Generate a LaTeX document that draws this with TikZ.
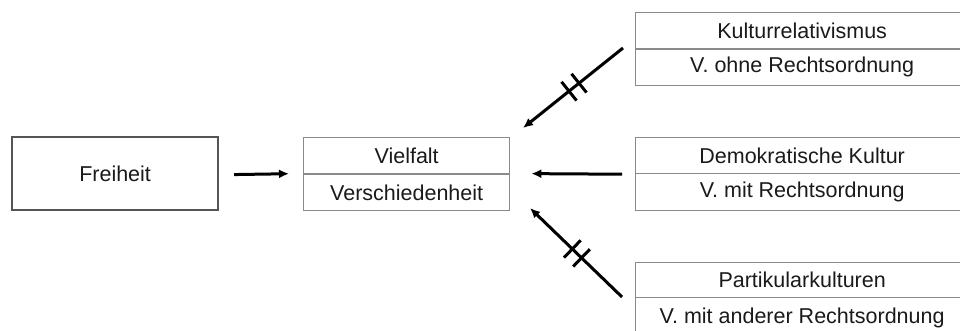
\documentclass[tikz,border=0pt]{standalone}
\usepackage{fontspec}
\setmainfont{Liberation Sans}
\usetikzlibrary{arrows.meta,decorations.markings}
\definecolor{txt}{HTML}{1A1A1A}
\definecolor{frame}{HTML}{8A8A8A}
\definecolor{mainframe}{HTML}{555555}
\begin{document}
\begin{tikzpicture}[x=1pt,y=-1pt,
  every node/.style={font=\fontsize{21.5}{26}\selectfont, text=txt},
  cell/.style={draw=frame, line width=1.3pt, rectangle, inner sep=0pt, anchor=north west},
  mainbox/.style={draw=mainframe, line width=2.2pt, rectangle, inner sep=0pt, anchor=north west},
  flow/.style={line width=3pt, -{Latex[length=10pt,width=9pt]}},
  blocked/.style={flow, postaction={decorate}, decoration={markings,
     mark=at position #1 with {\draw[-, line width=3pt] (0,-12pt) -- (0,12pt);},
     mark=at position #1+0.1 with {\draw[-, line width=3pt] (0,-12pt) -- (0,12pt);}}}
]
\useasboundingbox (0,0) rectangle (960,331);
\begin{scope}
\clip (0,0) rectangle (960,331);

% left box
\node[mainbox, minimum width=206pt, minimum height=73pt] (freiheit) at (11,136) {Freiheit};

% central two-row box
\node[cell, minimum width=206pt, minimum height=36.5pt] (vielfalt) at (303,137) {Vielfalt};
\node[cell, minimum width=206pt, minimum height=36.5pt] (verschieden) at (303,173.5) {Verschiedenheit};

% right boxes (run past the right edge)
\node[cell, minimum width=333pt, minimum height=36.5pt] (kultrel) at (635,12) {Kulturrelativismus};
\node[cell, minimum width=333pt, minimum height=36.5pt] (ohne) at (635,48.5) {V. ohne Rechtsordnung};

\node[cell, minimum width=333pt, minimum height=36pt] (demo) at (635,137) {Demokratische Kultur};
\node[cell, minimum width=333pt, minimum height=37pt] (mit) at (635,173) {V. mit Rechtsordnung};

\node[cell, minimum width=333pt, minimum height=35pt] (partik) at (635,262) {Partikularkulturen};
\node[cell, minimum width=333pt, minimum height=40pt] (anderer) at (635,297) {V. mit anderer Rechtsordnung};
\end{scope}

% arrow end points
\coordinate (kfrom) at (623,48);
\coordinate (kto) at (523,128);
\coordinate (pfrom) at (622,297);
\coordinate (pto) at (530,208);

% connectors
\draw[flow, shorten <=15pt, shorten >=14pt] (freiheit.east |- vielfalt.south) -- (verschieden.north west);
\draw[flow, shorten <=13pt, shorten >=21pt] (demo.south west) -- (verschieden.north east);
\draw[blocked=0.44] (kfrom) -- (kto);
\draw[blocked=0.44] (pfrom) -- (pto);
\end{tikzpicture}
\end{document}
